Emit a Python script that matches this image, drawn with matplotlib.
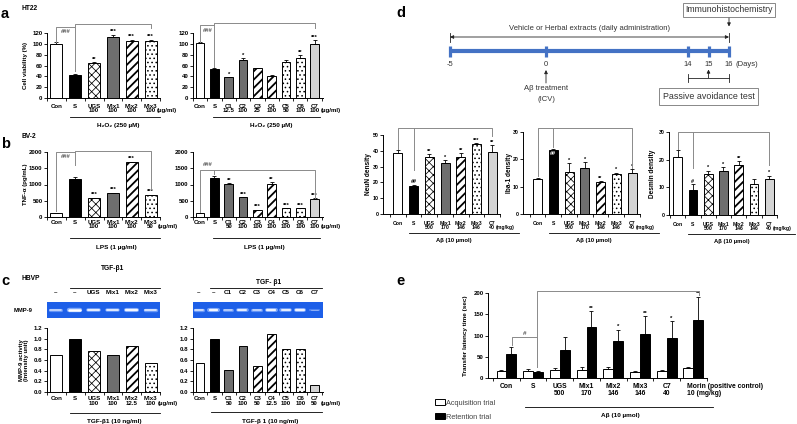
import numpy as np
import matplotlib
matplotlib.use('Agg')
import matplotlib.pyplot as plt
from matplotlib.transforms import ScaledTranslation

plt.rcParams['font.family'] = ['Liberation Sans', 'DejaVu Sans']
plt.rcParams['font.weight'] = 'bold'
plt.rcParams['axes.labelweight'] = 'bold'
plt.rcParams['hatch.linewidth'] = 0.6

# ---------------- data ----------------
a1_cats = ['Con', 'S', 'UGS\n100', 'Mix1\n100', 'Mix2\n100', 'Mix3\n100']
a1_vals = [100, 43, 64, 112, 106, 105]
a1_err = [3, 1, 2, 5, 2, 3]
a1_sig = ['', '', '**', '***', '***', '***']

a2_cats = ['Con', 'S', 'C1\n12.5', 'C2\n100', 'C3\n25', 'C4\n100', 'C5\n50', 'C6\n100', 'C7\n100']
a2_vals = [101, 53, 38, 70, 55, 41, 67, 74, 99]
a2_err = [3, 1.5, 1, 3, 1, 1, 4, 5, 8]
a2_sig = ['', '', '*', '*', '', '', '', '**', '***']

b1_cats = ['Con', 'S', 'UGS\n100', 'Mix1\n100', 'Mix2\n100', 'Mix3\n50']
b1_vals = [130, 1180, 600, 750, 1700, 670]
b1_err = [0, 60, 0, 0, 0, 20]
b1_sig = ['', '', '***', '***', '***', '***']

b2_cats = ['Con', 'S', 'C1\n50', 'C2\n100', 'C3\n100', 'C4\n100', 'C5\n100', 'C6\n100', 'C7\n100']
b2_vals = [130, 1200, 1030, 615, 215, 1030, 275, 270, 545]
b2_err = [0, 60, 20, 0, 15, 40, 0, 0, 30]
b2_sig = ['', '', '**', '***', '***', '**', '***', '***', '***']

c1_lanes = ['–', '–', 'UGS', 'Mix1', 'Mix2', 'Mix3']
c1_band = [0.55, 1.0, 0.75, 0.7, 0.9, 0.65]
c1_cats = ['Con', 'S', 'UGS\n100', 'Mix1\n100', 'Mix2\n12.5', 'Mix3\n100']
c1_vals = [0.70, 1.0, 0.77, 0.69, 0.86, 0.55]

c2_lanes = ['–', '–', 'C1', 'C2', 'C3', 'C4', 'C5', 'C6', 'C7']
c2_band = [0.6, 0.9, 0.5, 0.75, 0.55, 0.85, 0.75, 0.85, 0.15]
c2_cats = ['Con', 'S', 'C1\n50', 'C2\n100', 'C3\n50', 'C4\n12.5', 'C5\n100', 'C6\n100', 'C7\n50']
c2_vals = [0.55, 1.0, 0.42, 0.87, 0.49, 1.08, 0.81, 0.81, 0.14]

tl_days = [-5, 0, 14, 15, 16]

d_cats = ['Con', 'S', 'UGS\n500', 'Mix1\n170', 'Mix2\n146', 'Mix3\n146', 'C7\n40']
neun_vals = [38.4, 17.5, 36, 32, 36, 44, 39.5]
neun_err = [2, 1, 2, 2, 2.5, 0.8, 4]
neun_sig = ['', '##', '**', '*', '**', '***', '**']
iba_vals = [12.7, 23.4, 15.5, 16.7, 11.8, 14.7, 15.1]
iba_err = [0.4, 0.3, 3, 2.2, 0.2, 0.4, 1.3]
iba_sig = ['', '##', '*', '*', '**', '*', '*']
des_vals = [21.0, 9.0, 14.8, 15.9, 18.0, 11.1, 13.0]
des_err = [2.5, 2.2, 1.2, 1.5, 1.5, 1.9, 1.2]
des_sig = ['', '#', '*', '*', '**', '', '*']

e_cats = ['Con', 'S', 'UGS\n500', 'Mix1\n170', 'Mix2\n146', 'Mix3\n146', 'C7\n40',
          'Morin (positive control)\n10 (mg/kg)']
e_acq = [16, 16, 19, 19, 22, 14, 16.5, 23.5]
e_acq_err = [3.5, 5, 5, 7, 4.7, 2.5, 3, 1.5]
e_ret = [56.5, 14, 65, 119, 88, 103.5, 94, 135.7]
e_ret_err = [16.5, 3, 31.5, 38, 26, 41.5, 39, 56]
e_sig = ['', '', '', '**', '*', '**', '*', '**']

# ---------------- styles ----------------
GRAY = '#6e6e6e'
LIGHT = '#d4d4d4'
BLUE = '#4472c4'
GEL = '#1d5fe8'
BRK = '#8a8a8a'
STYLES = {
    'Con': ('white', None, 0.6), 'S': ('black', None, 0.6),
    'UGS': ('white', 'xxxx', 0.55), 'Mix1': (GRAY, None, 0.6),
    'Mix2': ('white', '////', 1.3), 'Mix3': ('white', '....', 0.6),
    'C1': (GRAY, None, 0.6), 'C2': (GRAY, None, 0.6),
    'C3': ('white', '////', 1.3), 'C4': ('white', '////', 1.3),
    'C5': ('white', '....', 0.6), 'C6': ('white', '....', 0.6),
    'C7': (LIGHT, None, 0.6),
}

W, H = 797, 424
fig = plt.figure(figsize=(W / 100, H / 100), dpi=100)


def px_axes(x0, y0, x1, y1):
    return fig.add_axes([x0 / W, 1 - y1 / H, (x1 - x0) / W, (y1 - y0) / H])


def frame(ax, xlim, ylim, yticks, ytfs, yfmt=None, ypad=1.2):
    ax.set_xlim(*xlim)
    ax.set_ylim(*ylim)
    for s in ('top', 'right'):
        ax.spines[s].set_visible(False)
    for s in ('left', 'bottom'):
        ax.spines[s].set_linewidth(0.7)
    yticks = list(yticks)
    ax.set_yticks(yticks)
    if yfmt:
        ax.set_yticklabels([yfmt % t for t in yticks])
    ax.tick_params(axis='y', length=2, width=0.6, pad=ypad, labelsize=ytfs)


def draw_bars(ax, cats, vals, err, sig, width, tfs, pad, lsp, sfs=4.2, white_sig=()):
    x = np.arange(len(vals))
    for i, (c, v) in enumerate(zip(cats, vals)):
        fc, hatch, hlw = STYLES[c.split('\n')[0]]
        with plt.rc_context({'hatch.linewidth': hlw}):
            bc = ax.bar(i, v, width=width, color=fc, edgecolor='black', linewidth=0.7,
                        hatch=hatch, zorder=2)
        for p in bc:
            if hasattr(p, 'set_hatch_linewidth'):
                p.set_hatch_linewidth(hlw)
    tops = np.array(vals, float)
    if err is not None:
        e = np.array(err, float)
        ax.errorbar(x, vals, yerr=[np.zeros_like(e), e], fmt='none', ecolor='black',
                    elinewidth=0.6, capsize=1.3, capthick=0.6, zorder=3)
        tops = tops + e
    if sig is not None:
        for i, s in enumerate(sig):
            if not s:
                continue
            if i in white_sig:
                ax.annotate(s, (i, vals[i]), xytext=(0, -0.5), textcoords='offset points',
                            ha='center', va='top', fontsize=sfs, color='white', zorder=4)
            else:
                ax.annotate(s, (i, tops[i]), xytext=(0, 0.3), textcoords='offset points',
                            ha='center', va='bottom', fontsize=sfs, zorder=4,
                            annotation_clip=False)
    ax.set_xticks(x, cats)
    ax.set_xticks(np.arange(len(vals) + 1) - 0.5, minor=True)
    ax.tick_params(axis='x', which='major', length=0, pad=pad, labelsize=tfs)
    ax.tick_params(axis='x', which='minor', length=1.8, width=0.6)
    for lb in ax.get_xticklabels():
        lb.set_linespacing(lsp)


def under_text(ax, x, text, pad_pt, fs, lsp, ha='left'):
    tr = ax.get_xaxis_transform() + ScaledTranslation(0, -pad_pt / 72, fig.dpi_scale_trans)
    ax.text(x, 0, text, transform=tr, ha=ha, va='top', fontsize=fs, linespacing=lsp,
            clip_on=False)


def group_label(ax, x0, x1, yfrac, line_off, text, tx, text_off, fs, color='black'):
    tr_l = ax.get_xaxis_transform() + ScaledTranslation(0, line_off / 100, fig.dpi_scale_trans)
    ax.plot([x0, x1], [yfrac, yfrac], transform=tr_l, color=color, lw=0.6, clip_on=False)
    tr_t = ax.get_xaxis_transform() + ScaledTranslation(0, text_off / 100, fig.dpi_scale_trans)
    ax.text(tx, yfrac, text, transform=tr_t, ha='center', va='center', fontsize=fs,
            clip_on=False)


def bracket(ax, x1, x2, y, y1, y2, color=BRK):
    ax.plot([x1, x1, x2, x2], [y1, y, y, y2], color=color, lw=0.7, clip_on=False, zorder=4)


def mark(ax, x, y, s, fs=4.2, color='#555555', va='center'):
    ax.text(x, y, s, ha='center', va=va, fontsize=fs, color=color, clip_on=False)


def ylab(ax, text, px, fs):
    ax.set_ylabel(text, fontsize=fs, labelpad=0, linespacing=0.95)
    bb = ax.get_position()
    ax.yaxis.set_label_coords((px / W - bb.x0) / bb.width, 0.5)
    ax.yaxis.label.set_verticalalignment('center')


# ---------------- panel labels ----------------
for lab, x, y in [('a', 1, 18), ('b', 1, 148), ('c', 1, 285), ('d', 396, 17), ('e', 396, 285)]:
    fig.text(x / W, 1 - y / H, lab, fontsize=10.5, va='baseline', ha='left')
for lab, x, y in [('HT22', 22, 9), ('BV-2', 22, 137), ('HBVP', 22, 279)]:
    fig.text(x / W, 1 - y / H, lab, fontsize=4.8, va='center', ha='left')

# ---------------- panel a ----------------
ax = px_axes(47, 33, 160, 98)
frame(ax, (-0.45, 5.5), (0, 120), range(0, 121, 20), 4.4)
draw_bars(ax, a1_cats, a1_vals, a1_err, a1_sig, 0.63, 4.4, 4.0, 0.85)
ylab(ax, 'Cell viability (%)', 25, 4.4)
under_text(ax, 5.35, '\n(µg/ml)', 4.0, 4.4, 0.85)
bracket(ax, 0, 1, 131, 104, 131)
bracket(ax, 1, 5, 137, 50, 130)
mark(ax, 0.5, 123, '###')
group_label(ax, 0.7, 5.5, 0, -19, 'H₂O₂ (250 µM)', 3.3, -27, 4.6)

ax = px_axes(193, 33, 323, 98)
frame(ax, (-0.42, 8.59), (0, 120), range(0, 121, 20), 4.4)
draw_bars(ax, a2_cats, a2_vals, a2_err, a2_sig, 0.6, 4.4, 4.0, 0.85)
under_text(ax, 8.45, '\n(µg/ml)', 4.0, 4.4, 0.85)
bracket(ax, 0, 1, 135, 104, 135)
bracket(ax, 1, 8, 138, 57, 129)
mark(ax, 0.5, 124, '###')
group_label(ax, 0.9, 8.4, 0, -19, 'H₂O₂ (250 µM)', 5.0, -27, 4.6)

# ---------------- panel b ----------------
ax = px_axes(47, 152, 160, 217)
frame(ax, (-0.45, 5.5), (0, 2000), range(0, 2001, 500), 4.4)
draw_bars(ax, b1_cats, b1_vals, b1_err, b1_sig, 0.63, 4.4, 2.2, 0.85)
ylab(ax, 'TNF-α (pg/mL)', 25, 4.4)
under_text(ax, 5.37, '\n(µg/ml)', 2.2, 4.4, 0.85)
bracket(ax, 0, 1, 2000, 180, 2000)
bracket(ax, 1, 5, 2030, 1600, 850)
mark(ax, 0.5, 1850, '###')
group_label(ax, 0.7, 5.5, 0, -21, 'LPS (1 µg/ml)', 3.2, -31, 4.6)

ax = px_axes(193, 152, 323, 217)
frame(ax, (-0.42, 8.59), (0, 2000), range(0, 2001, 500), 4.4)
draw_bars(ax, b2_cats, b2_vals, b2_err, b2_sig, 0.6, 4.4, 2.2, 0.85)
under_text(ax, 8.45, '\n(µg/ml)', 2.2, 4.4, 0.85)
bracket(ax, 0, 1, 1455, 160, 1455)
bracket(ax, 1, 8, 1455, 1330, 600)
mark(ax, 0.5, 1600, '###')
group_label(ax, 0.9, 8.4, 0, -21, 'LPS (1 µg/ml)', 4.5, -31, 4.6)


# ---------------- panel c ----------------
def gel(ax, lanes, band, xlim):
    ax.set_xlim(*xlim)
    ax.set_ylim(0, 1)
    ax.set_facecolor(GEL)
    for s in ax.spines.values():
        s.set_visible(False)
    x = np.arange(len(lanes))
    for i, v in enumerate(band):
        ax.plot([i - 0.3, i + 0.3], [0.5, 0.5], color='#8fb4ff', lw=1.2 + 2.0 * v,
                alpha=0.35 + 0.5 * v, solid_capstyle='round')
        ax.plot([i - 0.27, i + 0.27], [0.5, 0.5], color='white', lw=0.5 + 1.3 * v,
                alpha=0.25 + 0.75 * v, solid_capstyle='round')
    ax.set_yticks([])
    ax.set_xticks(x, lanes)
    ax.tick_params(axis='x', bottom=False, top=False, labelbottom=False, labeltop=True,
                   pad=1.2, labelsize=4.5)


ax = px_axes(47, 302, 160, 318)
gel(ax, c1_lanes, c1_band, (-0.45, 5.5))
ax.text(-0.13, 0.5, 'MMP-9', transform=ax.transAxes, ha='right', va='center', fontsize=4.2)
group_label(ax, 0.76, 5.5, 1, 14, 'TGF-β1', 3.0, 34, 4.8)

ax = px_axes(193, 302, 323, 318)
gel(ax, c2_lanes, c2_band, (-0.42, 8.59))
group_label(ax, 0.76, 8.54, 1, 14, 'TGF- β1', 4.8, 20, 4.8)

ax = px_axes(47, 328, 160, 392)
frame(ax, (-0.45, 5.5), (0, 1.2), np.arange(0, 1.21, 0.2), 4.4, '%.1f')
draw_bars(ax, c1_cats, c1_vals, None, None, 0.63, 4.4, 3.2, 0.85)
ylab(ax, 'MMP-9 activity\n(Intensity unit)', 24, 4.3)
under_text(ax, 5.37, '\n(µg/ml)', 3.2, 4.4, 0.85)
group_label(ax, 0.7, 5.5, 0, -21, 'TGF-β1 (10 ng/ml)', 3.1, -30, 4.6)

ax = px_axes(193, 328, 323, 392)
frame(ax, (-0.42, 8.59), (0, 1.2), np.arange(0, 1.21, 0.2), 4.4, '%.1f')
draw_bars(ax, c2_cats, c2_vals, None, None, 0.6, 4.4, 3.2, 0.85)
under_text(ax, 8.45, '\n(µg/ml)', 3.2, 4.4, 0.85)
group_label(ax, 0.76, 8.5, 0, -20, 'TGF-β 1 (10 ng/ml)', 4.9, -29, 4.6)

# ---------------- panel d: timeline ----------------
TL_DAY = [-5, 0, 14, 16]
TL_PX = [450, 546, 688, 729]


def _pw(v, xs, ys):
    v = np.asarray(v, dtype=float)
    out = np.interp(v, xs, ys)
    lo_s = (ys[1] - ys[0]) / (xs[1] - xs[0])
    hi_s = (ys[-1] - ys[-2]) / (xs[-1] - xs[-2])
    out = np.where(v < xs[0], ys[0] + (v - xs[0]) * lo_s, out)
    out = np.where(v > xs[-1], ys[-1] + (v - xs[-1]) * hi_s, out)
    return out


def tl_fwd(v):
    return _pw(v, TL_DAY, TL_PX)


def tl_inv(v):
    return _pw(v, TL_PX, TL_DAY)


axt = px_axes(400, 0, 797, 125)
axt.set_xscale('function', functions=(tl_fwd, tl_inv))
axt.set_xlim(float(tl_inv(400)), float(tl_inv(797)))
axt.set_ylim(125, 0)
axt.axis('off')
TXT = '#333333'
tw = dict(fontsize=5.5, fontweight='normal', color=TXT, ha='center', va='center')
axt.plot([tl_days[0], tl_days[-1]], [51, 51], color=BLUE, lw=3.0, solid_capstyle='butt')
for d in tl_days:
    axt.plot([d, d], [45.5, 56.5], color=BLUE, lw=2.3, solid_capstyle='butt')
    axt.text(d, 65, str(d), **tw)
axt.annotate('(Days)', (tl_days[-1], 65), xytext=(5, 0), textcoords='offset points',
             fontsize=5.5, fontweight='normal', color=TXT, ha='left', va='center')
axt.annotate('', xy=(tl_days[0], 37), xytext=(tl_days[-1], 37),
             arrowprops=dict(arrowstyle='<|-|>', lw=0.6, color='#222222', mutation_scale=5,
                             shrinkA=0, shrinkB=0))
for d in (tl_days[0], tl_days[-1]):
    axt.plot([d, d], [33, 42], color='#222222', lw=0.6)
mid = float(tl_inv((tl_fwd(tl_days[0]) + tl_fwd(tl_days[-1])) / 2))
axt.text(mid, 29, 'Vehicle or Herbal extracts (daily administration)', **tw)
axt.text(16, 10, 'Immunohistochemistry', fontsize=6.3, fontweight='normal', color=TXT,
         ha='center', va='center',
         bbox=dict(boxstyle='square,pad=0.3', fc='white', ec='#888888', lw=0.7))
axt.annotate('', xy=(16, 26.5), xytext=(16, 18),
             arrowprops=dict(arrowstyle='-|>', lw=0.6, color='#222222', mutation_scale=5,
                             shrinkA=0, shrinkB=0))
axt.annotate('', xy=(0, 70), xytext=(0, 83),
             arrowprops=dict(arrowstyle='-|>', lw=0.6, color='#222222', mutation_scale=5,
                             shrinkA=0, shrinkB=0))
axt.text(0, 89, 'Aβ treatment', **tw)
axt.text(0, 99.5, '(ICV)', **tw)
axt.plot([14, 16], [78, 78], color='#222222', lw=0.6)
for d in (14, 16):
    axt.plot([d, d], [74, 82], color='#222222', lw=0.6)
axt.annotate('', xy=(15, 69.5), xytext=(15, 78),
             arrowprops=dict(arrowstyle='-|>', lw=0.6, color='#222222', mutation_scale=5,
                             shrinkA=0, shrinkB=0))
axt.text(15, 96.5, 'Passive avoidance test', fontsize=6.4, fontweight='normal', color=TXT,
         ha='center', va='center',
         bbox=dict(boxstyle='square,pad=0.45', fc='white', ec='#888888', lw=0.7))

# ---------------- panel d: bar charts ----------------
d_specs = [
    (neun_vals, neun_err, neun_sig, 'NeuN density', (383, 135, 500, 214), (-0.95, 6.5),
     (0, 50), range(0, 51, 10), 368.5, (), (54.5, 41, 54.5, 28, 49.5)),
    (iba_vals, iba_err, iba_sig, 'Iba-1 density', (523, 132, 640, 214), (-0.92, 6.5),
     (0, 30), range(0, 31, 10), 509.5, (1,), (31.5, 13.8, 31.5, 24.5, 17)),
    (des_vals, des_err, des_sig, 'Desmin density', (669, 132, 777, 215), (-0.56, 6.5),
     (0, 30), range(0, 31, 10), 652, (), (30, 24, 30, 17, 18)),
]
for vals, err, sig, lab, box, xl, yl, yt, lpx, wsig, br in d_specs:
    ax = px_axes(*box)
    frame(ax, xl, yl, yt, 3.8, ypad=0.8)
    draw_bars(ax, d_cats, vals, err, sig, 0.57, 3.7, 5.0, 0.85, sfs=4.0, white_sig=wsig)
    ylab(ax, lab, lpx, 4.7)
    under_text(ax, 6.2, '\n(mg/kg)', 5.0, 3.7, 0.85)
    bracket(ax, 0, 1, br[0], br[1], br[2])
    bracket(ax, 1, 6, br[2], br[3], br[4])
    group_label(ax, 0.7, 7.7, 0, -19, 'Aβ (10 µmol)', 3.55, -26, 4.2)

# ---------------- panel e ----------------
ax = px_axes(488, 293, 707, 378)
frame(ax, (-0.69, 7.51), (0, 200), range(0, 201, 50), 4.4)
xe = np.arange(len(e_cats))
bw = 0.37
acq_bars = ax.bar(xe - bw / 2, e_acq, bw, color='white', edgecolor='black', linewidth=0.7,
                  zorder=2, label='Acquisition trial')
ret_bars = ax.bar(xe + bw / 2, e_ret, bw, color='black', edgecolor='black', linewidth=0.7,
                  zorder=2, label='Retention trial')
ax.errorbar(xe - bw / 2, e_acq, yerr=[np.zeros(len(xe)), e_acq_err], fmt='none',
            ecolor='black', elinewidth=0.6, capsize=1.3, capthick=0.6, zorder=3)
ax.errorbar(xe + bw / 2, e_ret, yerr=[np.zeros(len(xe)), e_ret_err], fmt='none',
            ecolor='black', elinewidth=0.6, capsize=1.3, capthick=0.6, zorder=3)
for i, s in enumerate(e_sig):
    if s:
        ax.annotate(s, (i + bw / 2, e_ret[i] + e_ret_err[i]), xytext=(0, 0.3),
                    textcoords='offset points', ha='center', va='bottom', fontsize=4.3,
                    annotation_clip=False)
ax.set_xticks(xe, e_cats[:-1] + [''])
ax.set_xticks(np.arange(len(xe) + 1) - 0.5, minor=True)
ax.tick_params(axis='x', which='major', length=0, pad=3.3, labelsize=4.9)
ax.tick_params(axis='x', which='minor', length=1.8, width=0.6)
for lb in ax.get_xticklabels():
    lb.set_linespacing(1.15)
under_text(ax, len(xe) - 1 - 0.25, e_cats[-1], 3.3, 4.9, 1.15)
ylab(ax, 'Transfer latency time (sec)', 465, 4.6)
bracket(ax, 0.2, 1.15, 96.5, 77, 26)
mark(ax, 0.67, 99, '#', fs=4.6, va='bottom')
bracket(ax, 1.15, 7.2, 205, 26, 195)
group_label(ax, 0.69, 7.73, 0, -29, 'Aβ (10 µmol)', 4.25, -37, 4.6)
fig.legend(handles=[acq_bars, ret_bars], labels=['Acquisition trial', 'Retention trial'],
           loc='upper left', bbox_to_anchor=(435 / W, 1 - 399 / H), frameon=False,
           prop={'size': 5.3, 'weight': 'normal'}, labelcolor='#444444',
           handlelength=1.35, handleheight=0.95, handletextpad=0.2, labelspacing=0.85,
           borderpad=0, borderaxespad=0)

fig.savefig('out.png', dpi=100)
